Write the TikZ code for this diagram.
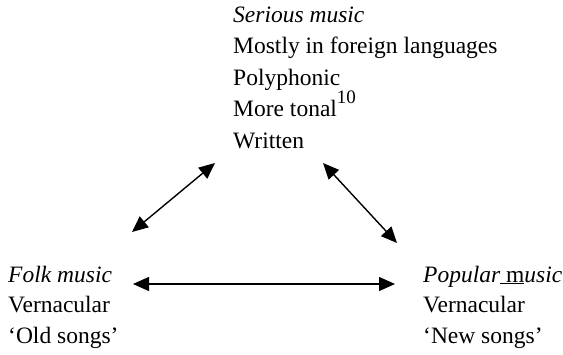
\documentclass[tikz,border=0pt]{standalone}
\usepackage{fontspec}
\setmainfont{Liberation Serif}
\usetikzlibrary{arrows.meta}

\tikzset{
  genre/.style={anchor=base west,inner sep=0pt,align=left,
    font=\fontsize{23.5}{30.5}\selectfont},
  link/.style={{Triangle[length=16pt,width=14pt]}-{Triangle[length=16pt,width=14pt]},line width=1.4pt}
}

\begin{document}
\begin{tikzpicture}[x=1pt,y=-1pt]
\useasboundingbox (0,0) rectangle (563,354);

% the three kinds of music (placed by the baseline of their last line)
\node[genre,font=\fontsize{23.5}{31.5}\selectfont] (serious) at (233,148) {\textit{Serious music}\\
  Mostly in foreign languages\\
  Polyphonic\\
  More tonal\raisebox{13pt}{\fontsize{19}{19}\selectfont 10}\\
  Written};
\node[genre] (folk) at (8,343) {\textit{Folk music}\\
  Vernacular\\
  `Old songs'};
\node[genre] (popular) at (423,343) {\textit{Popular}\underline{\ m}\textit{usic}\\
  Vernacular\\
  `New songs'};

% arrow ends
\coordinate (S1) at (215,163);
\coordinate (S2) at (323,163);
\coordinate (F1) at (132,232);
\coordinate (F2) at (133,284);
\coordinate (P1) at (397,243);
\coordinate (P2) at (395,284);

\draw[link] (F1) -- (S1);
\draw[link] (S2) -- (P1);
\draw[link] (F2) -- (P2);

\end{tikzpicture}
\end{document}
